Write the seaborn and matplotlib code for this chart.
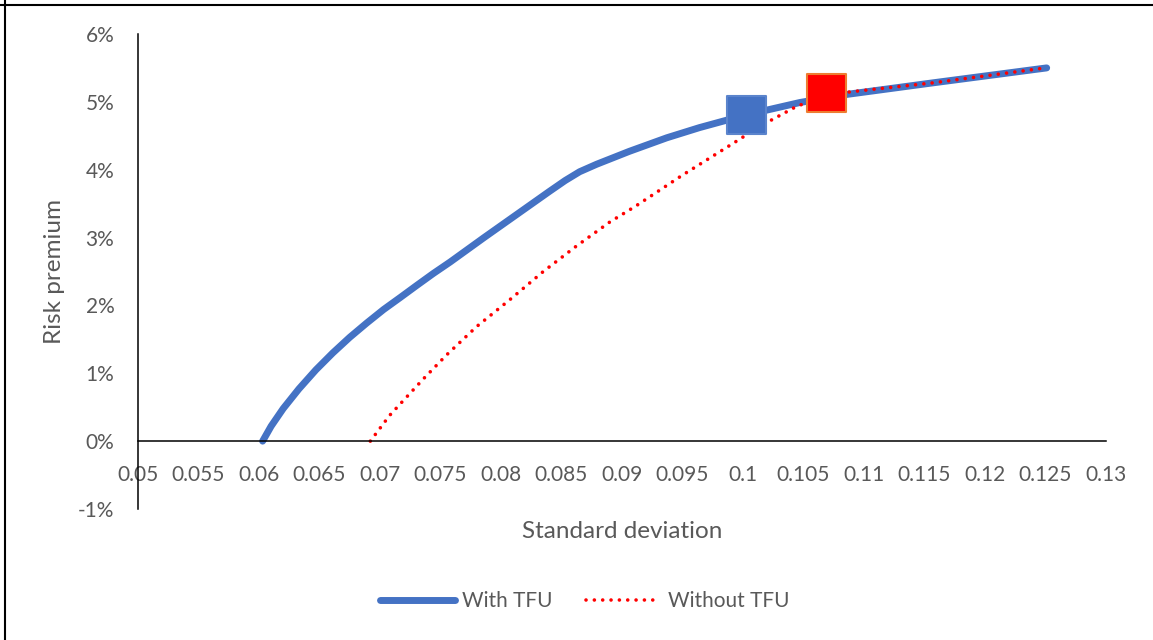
import numpy as np
import pandas as pd
import matplotlib
matplotlib.use("Agg")
import matplotlib.pyplot as plt
import seaborn as sns
from matplotlib.lines import Line2D
from matplotlib.ticker import MultipleLocator, FuncFormatter, PercentFormatter

# frontier with TFU (std dev, risk premium in %)
with_sd = [0.0603, 0.0610, 0.0620, 0.0633, 0.0647, 0.0661, 0.0675, 0.0689, 0.0703, 0.0717,
           0.0730, 0.0744, 0.0758, 0.0786, 0.0813, 0.0840, 0.0853, 0.0865, 0.0879, 0.0906,
           0.0937, 0.0964, 0.1003, 0.1047, 0.1086, 0.1157, 0.1251]
with_rp = [0.00, 0.22, 0.48, 0.77, 1.05, 1.30, 1.53, 1.74, 1.94, 2.12,
           2.29, 2.47, 2.64, 3.00, 3.34, 3.68, 3.84, 3.97, 4.08, 4.27,
           4.47, 4.62, 4.81, 4.99, 5.11, 5.28, 5.50]

# frontier without TFU
without_sd = [0.0692, 0.0700, 0.0708, 0.0722, 0.0736, 0.0755, 0.0780, 0.0807, 0.0835, 0.0862,
              0.0890, 0.0911, 0.0950, 0.0992, 0.1014, 0.1044, 0.1069, 0.1090, 0.1157, 0.1250]
without_rp = [0.00, 0.19, 0.38, 0.65, 0.92, 1.27, 1.69, 2.08, 2.50, 2.87,
              3.23, 3.46, 3.92, 4.39, 4.64, 4.93, 5.10, 5.15, 5.28, 5.50]

# highlighted portfolios
point_labels = ["With TFU", "Without TFU"]
point_sd = [0.1003, 0.1069]
point_rp = [4.81, 5.13]

BLUE = "#4472C4"
RED = "#FF0000"
GREY = "#595959"

df_with = pd.DataFrame({"sd": with_sd, "rp": with_rp})
df_without = pd.DataFrame({"sd": without_sd, "rp": without_rp})
df_pts = pd.DataFrame({"sd": point_sd, "rp": point_rp, "label": point_labels})

sns.set_style("white")
plt.rcParams["font.family"] = ["Lato", "DejaVu Sans"]
plt.rcParams["axes.unicode_minus"] = False

fig = plt.figure(figsize=(11.53, 6.4), dpi=100)
ax = fig.add_axes([0.1197, 0.2047, 0.8395, 0.7422])

sns.lineplot(data=df_with, x="sd", y="rp", ax=ax, color=BLUE, linewidth=5,
             solid_capstyle="round", solid_joinstyle="round", sort=False, label="With TFU")
sns.lineplot(data=df_without, x="sd", y="rp", ax=ax, color=RED, linewidth=2.6,
             linestyle=(0, (0.01, 2.3)), dash_capstyle="round", sort=False,
             label="Without TFU")
sns.scatterplot(data=df_pts, x="sd", y="rp", hue="label", palette=[BLUE, RED],
                marker="s", s=760, linewidth=1.5, edgecolor=["#5B84CC", "#ED7D31"],
                ax=ax, legend=False, zorder=5)

ax.set_xlim(0.05, 0.13)
ax.set_ylim(-1, 6)
ax.xaxis.set_major_locator(MultipleLocator(0.005))
ax.xaxis.set_major_formatter(FuncFormatter(lambda v, _: f"{v:g}"))
ax.yaxis.set_major_locator(MultipleLocator(1))
ax.yaxis.set_major_formatter(PercentFormatter(100, decimals=0))

for s in ["top", "right"]:
    ax.spines[s].set_visible(False)
ax.spines["bottom"].set_position(("data", 0))
for s in ["left", "bottom"]:
    ax.spines[s].set_color("black")
    ax.spines[s].set_linewidth(1.1)

ax.tick_params(axis="both", direction="in", length=6, width=1.1, color="black",
               labelsize=15, labelcolor=GREY, pad=17)

ax.set_xlabel("Standard deviation", fontsize=17.5, color=GREY, va="top")
ax.set_ylabel("Risk premium", fontsize=17.5, color=GREY)
ax.xaxis.set_label_coords(0.5, -0.025)
ax.yaxis.set_label_coords(-0.0754, 0.5)
ax.grid(False)

handles, labels = ax.get_legend_handles_labels()
if ax.legend_:
    ax.legend_.remove()
fig.legend(handles, labels, loc="center", bbox_to_anchor=(585 / 1153, 1 - 601 / 640),
           ncol=2, frameon=False, fontsize=15, labelcolor=GREY,
           handlelength=3.6, handletextpad=0.35, columnspacing=1.6)

# outer frame (top and left edges visible)
fig.add_artist(Line2D([0, 1], [0.992, 0.992], color="black", linewidth=1.5, transform=fig.transFigure))
fig.add_artist(Line2D([0.0043, 0.0043], [0, 1], color="black", linewidth=1.5, transform=fig.transFigure))

fig.savefig("out.png", dpi=100)
